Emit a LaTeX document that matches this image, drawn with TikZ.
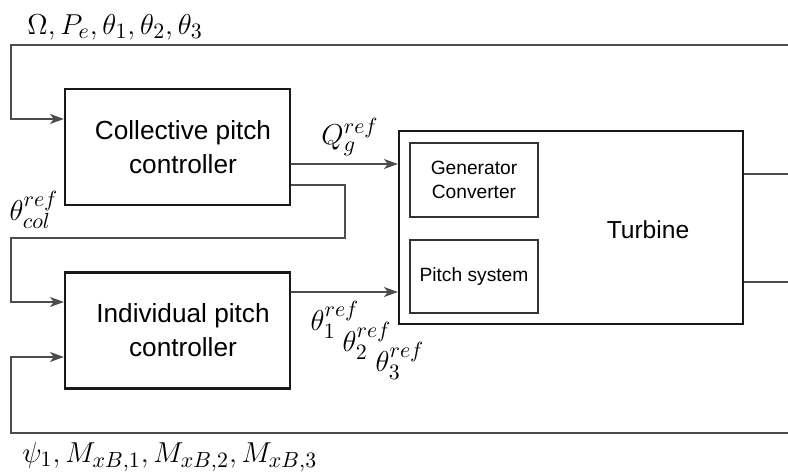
\documentclass[tikz,border=0pt]{standalone}
\usepackage{fontspec}
\setmainfont{Liberation Sans}
\usetikzlibrary{arrows.meta}
\begin{document}
\begin{tikzpicture}[x=0.5pt,y=-0.5pt,
  blk/.style={draw=black!90,line width=1.1pt,minimum width=112.5pt,minimum height=58pt,inner sep=0pt,align=center,font=\fontsize{13.1}{17}\selectfont},
  sub/.style={draw=black!80,line width=0.7pt,inner sep=0pt,align=center,font=\fontsize{9.6}{12}\selectfont},
  con/.style={draw=black!70,line width=0.75pt},
  arr/.style={con,-{Stealth[length=7pt,width=5pt,inset=2pt]}},
  lab/.style={inner sep=0pt,font=\fontsize{15.5}{17}\selectfont}]
\useasboundingbox (0,0) rectangle (788,474);
\node[blk] (coll) at (177.5,147) {\hspace*{5.5pt}Collective pitch\\\hspace*{5.5pt}controller};
\node[blk] (ind) at (177.5,330.5) {\hspace*{5.5pt}Individual pitch\\\hspace*{5.5pt}controller};
\node[draw=black!90,line width=1.1pt,minimum width=172pt,minimum height=96.5pt,inner sep=0pt] (turb) at (571,227.5) {};
\node[font=\fontsize{12.3}{15}\selectfont,inner sep=0pt] (turblab) at (648,230) {Turbine};
\node[sub,minimum width=64pt,minimum height=37pt] (gen) at (474,180) {Generator\\Converter};
\node[sub,minimum width=64pt,minimum height=36.5pt] (pitch) at (474,276.5) {Pitch system};
\coordinate (topR) at (788,45);
\coordinate (botR) at (788,433);
\coordinate (out1) at (788,174);
\coordinate (out2) at (788,282);
\coordinate (cin) at ([yshift=14pt]coll.west);
\coordinate (qout) at ([yshift=-8.5pt]coll.east);
\coordinate (cout) at ([yshift=-19pt]coll.east);
\coordinate (iin1) at ([yshift=14.25pt]ind.west);
\coordinate (iin2) at ([yshift=-13.25pt]ind.west);
\coordinate (iout) at ([yshift=19.25pt]ind.east);
\draw[arr] (topR) -- (11,45) |- (cin);
\draw[arr] (qout) -- (turb.west |- qout);
\draw[arr] (cout) -| (345,238) -| (11,302) -- (iin1);
\draw[arr] (iout) -- (turb.west |- iout);
\draw[arr] (botR) -- (11,433) |- (iin2);
\draw[con] (turb.east |- out1) -- (out1);
\draw[con] (turb.east |- out2) -- (out2);
\node[lab,anchor=west] (l1) at (27,27) {$\Omega, P_e, \theta_1, \theta_2, \theta_3$};
\node[lab] (l2) at (350,137) {$Q_g^{ref}$};
\node[lab] (l3) at (34,210) {$\theta_{col}^{ref}$};
\node[lab] (l4) at (335,320) {$\theta_1^{ref}$};
\node[lab] (l5) at (367,341) {$\theta_2^{ref}$};
\node[lab] (l6) at (400,361) {$\theta_3^{ref}$};
\node[lab,anchor=west] (l7) at (22,457) {$\psi_1, M_{xB,1}, M_{xB,2}, M_{xB,3}$};
\end{tikzpicture}
\end{document}
